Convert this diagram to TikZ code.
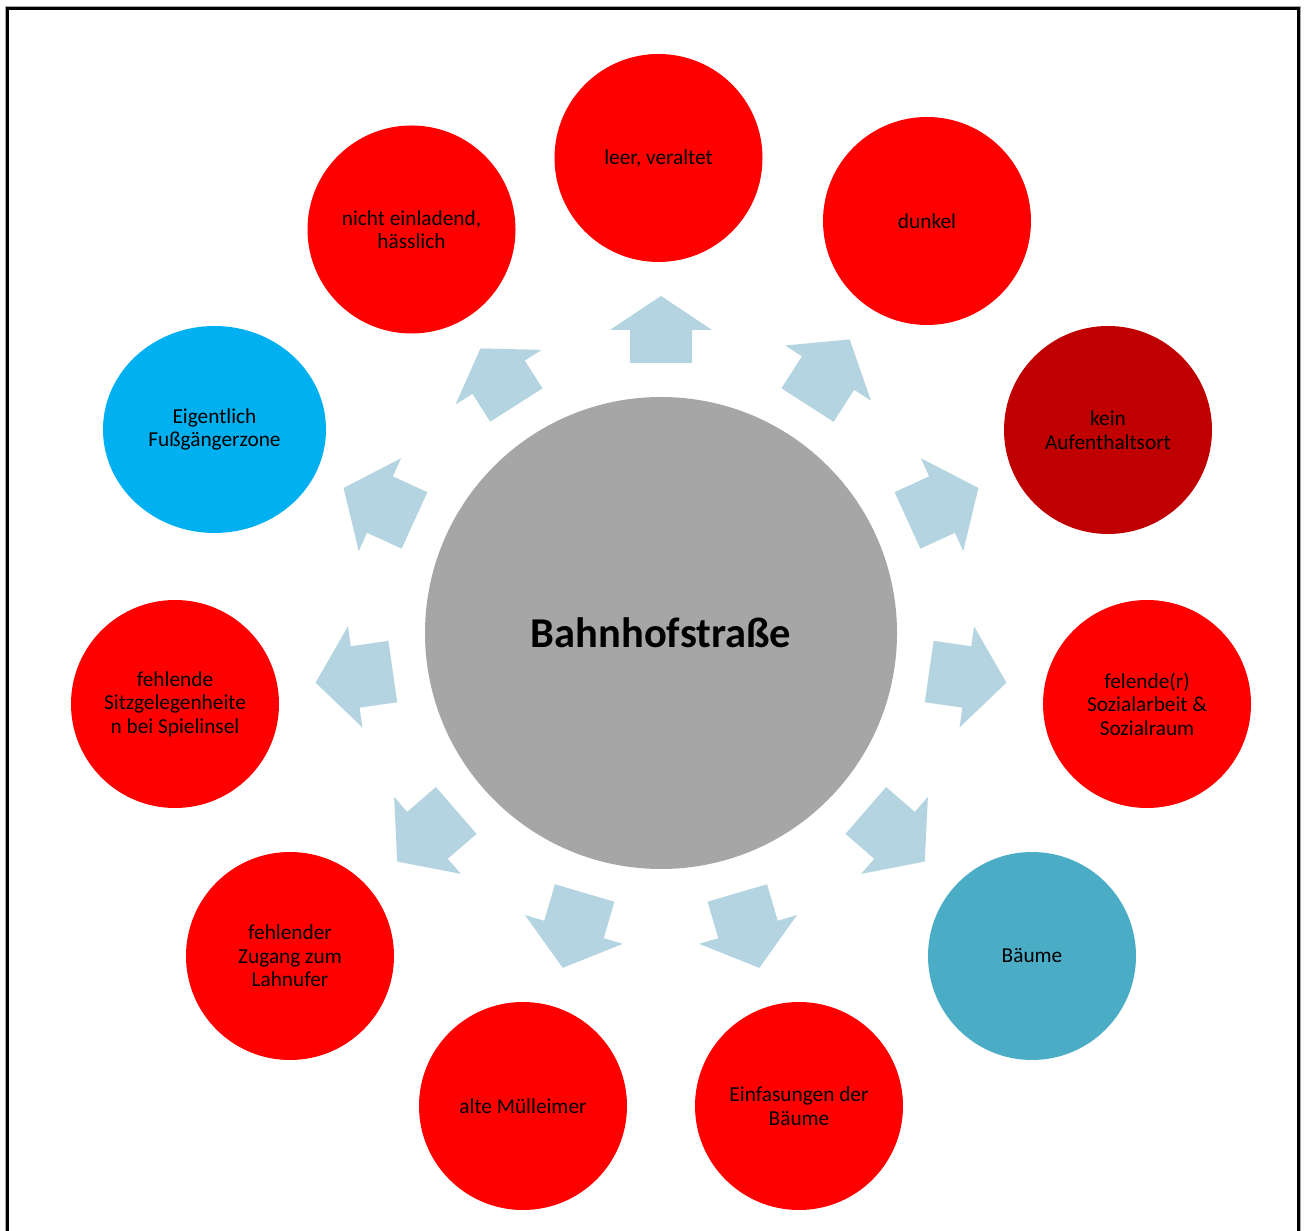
\documentclass[tikz,border=0pt]{standalone}
\usepackage{fontspec}
\setmainfont{Carlito}
\usetikzlibrary{shapes.geometric}
\definecolor{cred}{HTML}{FF0000}
\definecolor{cdarkred}{HTML}{C00000}
\definecolor{csky}{HTML}{00B0F0}
\definecolor{cteal}{HTML}{4BACC6}
\definecolor{cgray}{HTML}{A6A6A6}
\definecolor{carrow}{HTML}{B3D4E0}
\begin{document}
\begin{tikzpicture}[x=1pt,y=1pt,
  outer/.style={circle, minimum size=208pt, inner sep=0pt, align=center,
    font=\fontsize{21.3}{23.6}\selectfont, text=black},
  blockarrow/.style={fill=carrow}]
\useasboundingbox (0,0) rectangle (1306,1231);
\fill[white] (0,0) rectangle (1306,1231);
% frame
\draw[gray!70, line width=3.5pt] (7,0) -- (7,1223) -- (1299,1223) -- (1299,0);
\draw[black, line width=2.2pt] (7.5,0) -- (7.5,1222.5) -- (1298.5,1222.5) -- (1298.5,0);
% block arrows
\foreach \ang/\rt/\rh/\rp in {0/270/303/337, 32.73/271/309/349, 65.45/271/309/349,
  98.18/271/309/349, 130.91/271/309/349, 163.64/271/309/349, 196.36/271/309/349,
  229.09/271/309/349, 261.82/271/309/349, 294.55/271/309/349, 327.6/270/303/337}{
  \begin{scope}[shift={(661,598)}, rotate=90-\ang]
    \fill[blockarrow] (\rt,31) -- (\rh,31) -- (\rh,51) -- (\rp,0) -- (\rh,-51) -- (\rh,-31) -- (\rt,-31) -- cycle;
  \end{scope}
}
% center
\node[circle, fill=cgray, minimum size=472pt, inner sep=0pt,
  font=\bfseries\fontsize{42.5}{50}\selectfont] (center) at (661,598) {Bahnhofstraße};
% outer circles
\node[outer, fill=cred] (leer) at (658.5,1073) {leer, veraltet};
\node[outer, fill=cred] (dunkel) at (927,1010) {dunkel};
\node[outer, fill=cdarkred] (kein) at (1108,801) {kein\\Aufenthaltsort};
\node[outer, fill=cred] (sozial) at (1147,527) {felende(r)\\Sozialarbeit \&\\Sozialraum};
\node[outer, fill=cteal] (baeume) at (1032,275) {Bäume};
\node[outer, fill=cred] (einf) at (799,125) {Einfasungen der\\Bäume};
\node[outer, fill=cred] (muell) at (523,125) {alte Mülleimer};
\node[outer, fill=cred] (zugang) at (290,275) {fehlender\\Zugang zum\\Lahnufer};
\node[outer, fill=cred] (sitz) at (175,527) {fehlende\\Sitzgelegenheite\\n bei Spielinsel};
\node[ellipse, minimum width=223pt, minimum height=207pt, inner sep=0pt, align=center,
  font=\fontsize{21.3}{23.6}\selectfont, fill=csky] (fuss) at (214.5,801.5) {Eigentlich\\Fußgängerzone};
\node[outer, fill=cred] (nicht) at (411.5,1001.5) {nicht einladend,\\hässlich};
\end{tikzpicture}
\end{document}
